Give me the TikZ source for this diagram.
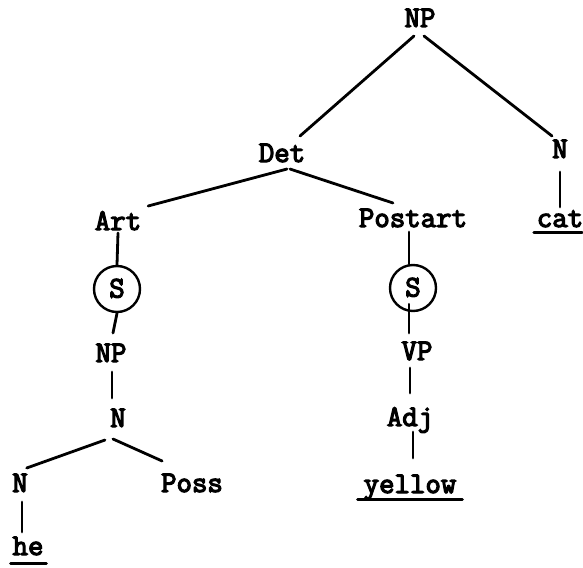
\documentclass[tikz,border=0pt]{standalone}
\usepackage{fontspec}
\newfontfamily\twfont{Latin Modern Mono}[FakeBold=4]
\begin{document}
\begin{tikzpicture}[x=1pt,y=-1pt,
  lab/.style={font=\twfont\fontsize{30}{30}\selectfont, inner sep=0pt, outer sep=0pt,
              text height=17pt, text depth=0pt, anchor=base},
  snode/.style={draw, circle, line width=2.4pt, minimum size=46pt, inner sep=0pt,
              font=\twfont\fontsize{30}{30}\selectfont, text height=17pt, text depth=0pt},
  br/.style={line width=2.8pt, line cap=round},
  ul/.style={line width=3pt, line cap=round}]
\useasboundingbox (0,0) rectangle (583,567);
% nodes
\node[lab] (np1) at (420,27) {NP};
\node[lab] (det) at (282,162) {Det};
\node[lab] (n1) at (560,158) {N};
\node[lab] (cat) at (560,227) {cat};
\node[lab] (art) at (118,230) {Art};
\node[lab] (post) at (413,227) {Postart};
\node[snode] (s1) at (117,289) {S};
\node[snode] (s2) at (413,288) {S};
\node[lab] (np2) at (111,362) {NP};
\node[lab] (vp) at (417,360) {VP};
\node[lab] (nmid) at (118,427) {N};
\node[lab] (adj) at (410,426) {Adj};
\node[lab] (nleft) at (20,492) {N};
\node[lab] (poss) at (192,492) {Poss};
\node[lab] (yellow) at (410,493) {yellow};
\node[lab] (he) at (28,555) {he};
% branches
\draw[br] ([xshift=-6pt,yshift=-9pt]np1.south) -- ([xshift=18pt,yshift=9pt]det.north);
\draw[br] ([xshift=4pt,yshift=-9pt]np1.south) -- ([xshift=-8pt,yshift=5pt]n1.north);
\draw[br] ([xshift=5pt,yshift=-7pt]det.south) -- ([xshift=7pt,yshift=7pt]art.north east);
\draw[br] ([xshift=8pt,yshift=-7pt]det.south) -- ([xshift=-20pt,yshift=7pt]post.north);
\draw[br] ([yshift=-14pt]n1.south) -- ([yshift=3pt]cat.north);
\draw[br] ([yshift=-3pt]art.south) -- (s1.north);
\draw[br] (s1.south) -- ([xshift=2pt,yshift=12pt]np2.north);
\draw[br] ([xshift=-4pt,yshift=-5pt]post.south) -- ([xshift=-4pt]s2.north);
\draw[br] ([xshift=-4pt,yshift=8pt]s2.south) -- ([xshift=-8pt,yshift=10pt]vp.north);
\draw[br] ([xshift=-7pt,yshift=-8pt]vp.south) -- ([yshift=16pt]adj.north);
\draw[br] ([xshift=3pt,yshift=-6pt]adj.south) -- ([xshift=3pt,yshift=18pt]yellow.north);
\draw[br] ([xshift=1pt,yshift=-10pt]np2.south) -- ([xshift=-6pt,yshift=12pt]nmid.north);
\draw[br] ([xshift=-13pt,yshift=-13pt]nmid.south) -- ([xshift=-1pt,yshift=7pt]nleft.north east);
\draw[br] ([xshift=-5pt,yshift=-12pt]nmid.south) -- ([xshift=1pt,yshift=14pt]poss.north west);
\draw[br] ([xshift=2pt,yshift=-10pt]nleft.south) -- ([xshift=-6pt,yshift=6pt]he.north);
% underlines
\draw[ul] ([xshift=-2pt,yshift=-8pt]he.south west) -- ([xshift=3pt,yshift=-8pt]he.south east);
\draw[ul] ([xshift=-3pt,yshift=-5pt]cat.south west) -- ([xshift=-1pt,yshift=-5pt]cat.south east);
\draw[ul] ([xshift=-6pt,yshift=-6pt]yellow.south west) -- ([xshift=6pt,yshift=-6pt]yellow.south east);
\end{tikzpicture}
\end{document}
